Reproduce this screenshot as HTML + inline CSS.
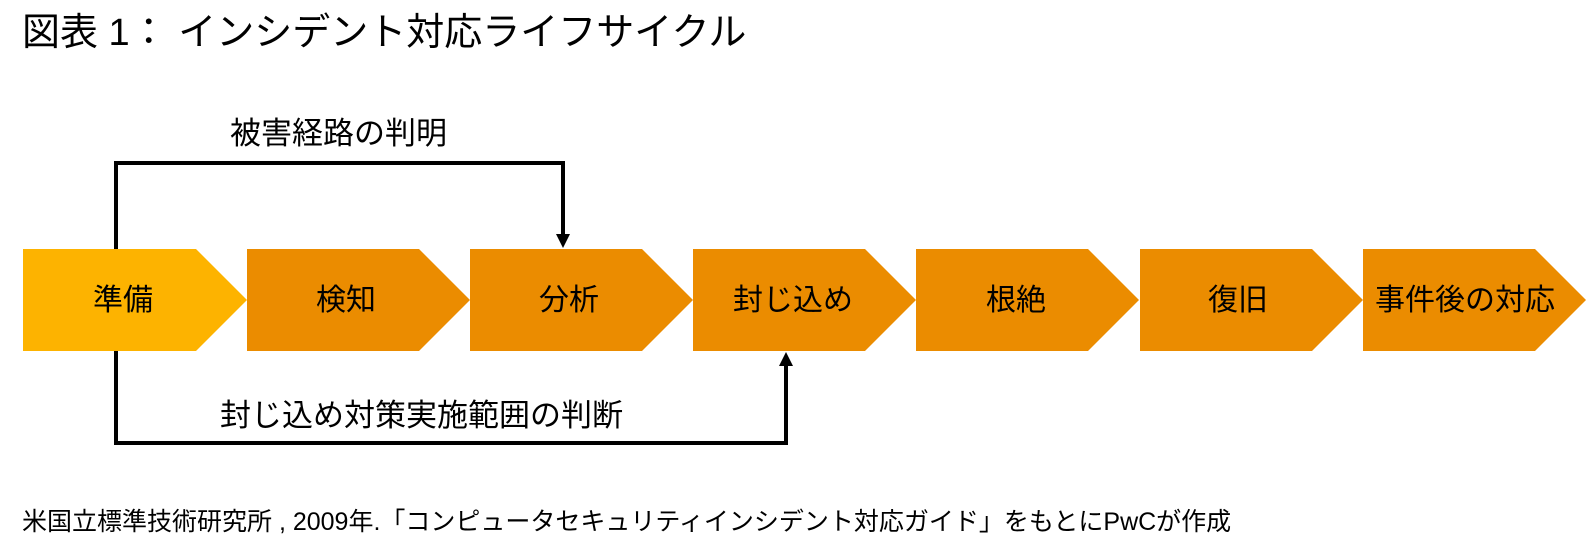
<!DOCTYPE html>
<html><head><meta charset="utf-8"><style>
body{margin:0;background:#fff;}
svg text{font-family:"Liberation Sans","Noto Sans CJK JP",sans-serif;fill:#000;}
</style></head><body>
<svg width="1587" height="553" xmlns="http://www.w3.org/2000/svg">
<text x="22" y="45" font-size="38">図表 1： インシデント対応ライフサイクル</text>
<g font-size="30" text-anchor="middle">
<polygon points="23,249 196,249 247,300 196,351 23,351" fill="#FDB300"/>
<polygon points="247,249 419,249 470,300 419,351 247,351" fill="#EB8C00"/>
<polygon points="470,249 642,249 693,300 642,351 470,351" fill="#EB8C00"/>
<polygon points="693,249 865,249 916,300 865,351 693,351" fill="#EB8C00"/>
<polygon points="916,249 1088,249 1139,300 1088,351 916,351" fill="#EB8C00"/>
<polygon points="1140,249 1312,249 1363,300 1312,351 1140,351" fill="#EB8C00"/>
<polygon points="1363,249 1535,249 1586,300 1535,351 1363,351" fill="#EB8C00"/>
<text x="123" y="310">準備</text>
<text x="346" y="310">検知</text>
<text x="569" y="310">分析</text>
<text x="793" y="310">封じ込め</text>
<text x="1016" y="310">根絶</text>
<text x="1238" y="310">復旧</text>
<text x="1465" y="310">事件後の対応</text>
</g>
<polyline points="116,249 116,163 563,163 563,236" fill="none" stroke="#000" stroke-width="4"/>
<polygon points="556,234 570,234 563,248" fill="#000"/>
<polyline points="116,351 116,443 786,443 786,364" fill="none" stroke="#000" stroke-width="4"/>
<polygon points="779,366 793,366 786,352" fill="#000"/>
<text x="230" y="144" font-size="31">被害経路の判明</text>
<text x="220" y="426" font-size="31">封じ込め対策実施範囲の判断</text>
<text x="22" y="530" font-size="25">米国立標準技術研究所 , 2009年.「コンピュータセキュリティインシデント対応ガイド」をもとにPwCが作成</text>
</svg>
</body></html>
